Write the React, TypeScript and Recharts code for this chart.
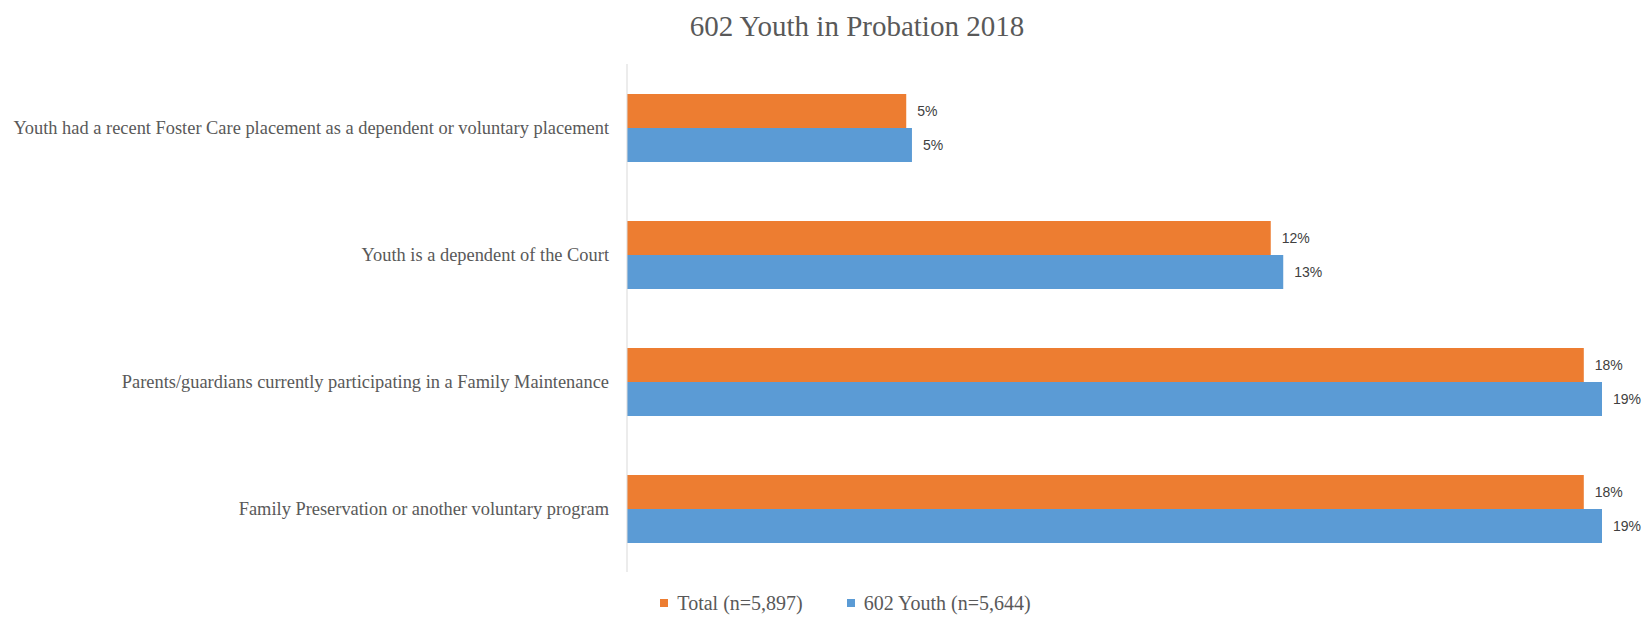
import { Bar, BarChart, LabelList, Legend, XAxis, YAxis } from "recharts";

const categories = [
  "Youth had a recent Foster Care placement as a dependent or voluntary placement",
  "Youth is a dependent of the Court",
  "Parents/guardians currently participating in a Family Maintenance",
  "Family Preservation or another voluntary program",
];
const totalValues = [5.37, 12.38, 18.4, 18.4];
const youthValues = [5.48, 12.62, 18.75, 18.75];
const seriesNames = ["Total (n=5,897)", "602 Youth (n=5,644)"];
const colors = ["#ED7D31", "#5B9BD5"];

const rows = categories.map((name, i) => ({ name, total: totalValues[i], youth: youthValues[i] }));

const serif = "'Liberation Serif', 'Times New Roman', serif";

function LegendBox() {
  return (
    <div style={{ display: "flex", justifyContent: "center", alignItems: "center", height: 24, gap: 44, fontFamily: serif, fontSize: 20, lineHeight: "24px", color: "#595959", paddingLeft: 50, boxSizing: "border-box" }}>
      {seriesNames.map((n, i) => (
        <span key={n} style={{ display: "flex", alignItems: "center" }}>
          <span style={{ display: "inline-block", width: 8, height: 8, background: colors[i], marginRight: 9 }} />
          {n}
        </span>
      ))}
    </div>
  );
}

export default function App() {
  return (
    <div style={{ position: "relative", margin: -8, width: 1652, height: 623, overflow: "hidden", background: "#fff" }}>
      <div style={{ position: "absolute", top: 10, left: 0, width: 1652, textAlign: "center", paddingLeft: 62, boxSizing: "border-box", fontFamily: serif, fontSize: 29, color: "#595959" }}>
        602 Youth in Probation 2018
      </div>
      <BarChart width={1652} height={623} data={rows} layout="vertical" margin={{ top: 64, right: 11, bottom: 27, left: 0 }} barCategoryGap={29} barGap={0}>
        <XAxis type="number" domain={[0, 19.5]} hide />
        <YAxis type="category" dataKey="name" width={627} axisLine={{ stroke: "#d9d9d9" }} tickLine={false} tickMargin={12} tick={{ fill: "#595959", fontFamily: serif, fontSize: 18.4 }} />
        <Legend verticalAlign="bottom" content={() => <LegendBox />} wrapperStyle={{ top: 591, bottom: "auto", height: 24 }} />
        <Bar dataKey="total" name={seriesNames[0]} fill={colors[0]} barSize={34} isAnimationActive={false}>
          <LabelList dataKey="total" position="right" offset={11} fill="#404040" fontSize={14} fontFamily="'Liberation Sans', Arial, sans-serif" formatter={(v: any) => `${Math.round(v)}%`} />
        </Bar>
        <Bar dataKey="youth" name={seriesNames[1]} fill={colors[1]} barSize={34} isAnimationActive={false}>
          <LabelList dataKey="youth" position="right" offset={11} fill="#404040" fontSize={14} fontFamily="'Liberation Sans', Arial, sans-serif" formatter={(v: any) => `${Math.round(v)}%`} />
        </Bar>
      </BarChart>
    </div>
  );
}
